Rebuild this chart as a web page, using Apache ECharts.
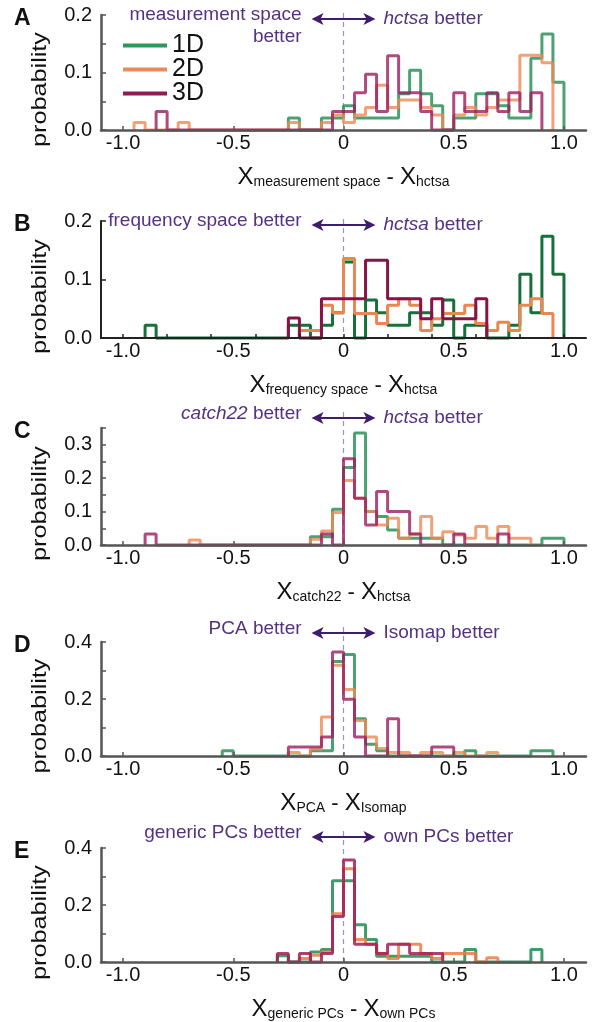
<!DOCTYPE html>
<html><head><meta charset="utf-8">
<script src="https://cdn.jsdelivr.net/npm/echarts@6/dist/echarts.min.js"></script>
<style>html,body{margin:0;padding:0;background:#fff}#c{width:606px;height:1022px}</style>
</head><body><div id="c"></div>
<script>
// ---- data ----
const binStart = -1.0;   // left edge of first bin
const binWidth = 0.05;   // histogram bin width
const seriesNames = ['1D', '2D', '3D'];
const xTickLabels = [-1, -0.5, 0, 0.5, 1];

// Panel A: measurement space - hctsa
const greenA   = [0,0,0,0,0,0,0,0,0,0,0,0,0,0,0,.021,0,0,.021,.021,.042,.021,.021,.021,.021,.063,.104,.063,.042,0,.021,.021,.063,.063,.042,.021,.021,.125,.167,.083];
const orangeA  = [0,.013,0,0,0,.013,0,0,0,0,0,0,0,0,0,.013,0,0,.013,.026,.013,.026,.039,.078,.039,.052,.052,.039,.026,0,.026,.039,.026,.039,.052,.052,.13,.13,.117,0];
const magentaA = [0,0,0,.032,0,0,0,0,0,0,0,0,0,0,0,0,0,0,0,.032,.032,.065,.097,.032,.129,.065,.065,.032,0,0,.065,.032,.032,.065,.032,.065,.032,.065,0,0];
// Panel B: frequency space - hctsa
const greenB   = [0,0,.022,0,0,0,0,0,0,0,0,0,0,0,0,.022,.022,0,.022,.043,.13,0,.065,.043,.022,.022,.043,.043,.022,.065,0,.022,.022,0,0,.022,.109,.043,.174,.109];
const orangeB  = [0,0,0,0,0,0,0,0,0,0,0,0,0,0,0,0,.013,.013,.056,.043,.136,.042,.042,.025,.056,.067,.056,.013,.033,.042,.042,.056,.025,.013,.027,.013,.056,.067,.042,0];
const magentaB = [0,0,0,0,0,0,0,0,0,0,0,0,0,0,0,.034,0,0,.067,.067,.067,.067,.133,.133,.067,.067,.067,.033,.067,.033,.033,.033,.067,0,0,0,0,0,0,0];
// Panel C: catch22 - hctsa
const greenC   = [0,0,0,0,0,0,0,0,0,0,0,0,0,0,0,0,0,.025,.025,.107,.232,.335,.1,.085,.045,.02,.02,.02,.02,0,0,0,0,0,0,0,0,0,.02,.02];
const orangeC  = [0,0,0,0,0,0,.015,0,0,0,0,0,0,0,0,0,0,.017,.042,.097,.193,.14,.1,.06,.08,.02,.033,.085,.02,.04,.03,.02,.055,.02,.055,.02,.02,0,0,0];
const magentaC = [0,0,.033,0,0,0,0,0,0,0,0,0,0,0,0,0,0,0,.033,0,.258,.14,.06,.16,.1,.1,.033,0,0,0,.033,0,0,0,.033,0,0,0,0,0];
// Panel D: PCA - Isomap
const greenD   = [0,0,0,0,0,0,0,0,0,.018,0,0,0,0,0,0,0,.018,.018,.332,.356,.131,.041,.018,0,0,0,0,0,0,0,.018,0,0,0,0,0,.018,.018,0];
const orangeD  = [0,0,0,0,0,0,0,0,0,0,0,0,0,0,0,.012,0,.025,.137,.318,.233,.125,.067,.026,.012,.012,0,.012,.012,0,.012,0,0,.012,0,0,0,0,0,0];
const magentaD = [0,0,0,0,0,0,0,0,0,0,0,0,0,0,0,.032,.032,.032,.067,.365,.199,.067,0,0,.131,0,0,0,.032,.032,0,0,0,0,0,0,0,0,0,0];
// Panel E: generic PCs - own PCs
const greenE   = [0,0,0,0,0,0,0,0,0,0,0,0,0,0,.022,0,0,.035,.044,.285,.285,.131,.079,.02,.02,.02,.02,.02,0,0,0,.044,0,0,0,0,0,.044,0,0];
const orangeE  = [0,0,0,0,0,0,0,0,0,0,0,0,0,0,0,0,.012,.024,.035,.169,.327,.079,.062,.03,.012,.062,.062,.03,.012,.03,.03,.03,0,.015,0,0,0,0,0,0];
const magentaE = [0,0,0,0,0,0,0,0,0,0,0,0,0,0,.03,0,.03,0,.03,.16,.358,.062,.062,.03,.062,.062,.03,.03,.03,0,0,0,0,0,0,0,0,0,0,0];

// ---- layout / style ----
const panels = [
  {letter:'A', top:15, height:115, ymax:0.2, yLab:[0,0.1,0.2], yTick:[0,0.05,0.1,0.15,0.2], xTick:[-1,-0.5,0,0.5,1],
   vals:[greenA,orangeA,magentaA], sub1:'measurement space', sub2:'hctsa', alpha:0.8,
   cols:['#1f8a50','#ee8a56','#9b1d5e'], axis:'#555', axisW:2.5},
  {letter:'B', top:221, height:117, ymax:0.2, yLab:[0,0.1,0.2], yTick:[0,0.1,0.2], xTick:[-1,-0.8,-0.6,-0.4,-0.2,0,0.2,0.4,0.6,0.8,1],
   vals:[greenB,orangeB,magentaB], sub1:'frequency space', sub2:'hctsa', alpha:1,
   cols:['#17703a','#e8874f','#861448'], axis:'#222', axisW:2},
  {letter:'C', top:428, height:117, ymax:0.35, yLab:[0,0.1,0.2,0.3], yTick:[0,0.05,0.1,0.15,0.2,0.25,0.3,0.35], xTick:[-1,-0.5,0,0.5,1],
   vals:[greenC,orangeC,magentaC], sub1:'catch22', sub2:'hctsa', alpha:0.8,
   cols:['#1f8a50','#ee8a56','#9b1d5e'], axis:'#555', axisW:2.5},
  {letter:'D', top:642, height:114, ymax:0.4, yLab:[0,0.2,0.4], yTick:[0,0.1,0.2,0.3,0.4], xTick:[-1,-0.5,0,0.5,1],
   vals:[greenD,orangeD,magentaD], sub1:'PCA', sub2:'Isomap', alpha:0.8,
   cols:['#1f8a50','#ee8a56','#9b1d5e'], axis:'#555', axisW:2.5},
  {letter:'E', top:848, height:115, ymax:0.4, yLab:[0,0.2,0.4], yTick:[0,0.1,0.2,0.3,0.4], xTick:[-1,-0.5,0,0.5,1],
   vals:[greenE,orangeE,magentaE], sub1:'generic PCs', sub2:'own PCs', alpha:0.85,
   cols:['#1f8a50','#ea7d45','#a31c55'], axis:'#555', axisW:2.5}
];
const annotations = [
  {left:['measurement space','better'], right:'{i|hctsa} better', y:19},
  {left:['frequency space better'], right:'{i|hctsa} better', y:225},
  {left:['{i|catch22} better'], right:'{i|hctsa} better', y:418},
  {left:['PCA better'], right:'Isomap better', y:633},
  {left:['generic PCs better'], right:'own PCs better', y:837}
];
const legendCols = ['#2e9660','#e98b58','#8e1c52'];
const PURPLE = '#543282';
const FONT = 'Liberation Sans';

function stairs(vals){
  let first = vals.findIndex(v => v > 0);
  let last = vals.length - 1 - vals.slice().reverse().findIndex(v => v > 0);
  const edge = i => +(binStart + i * binWidth).toFixed(4);
  const pts = [[edge(first), 0]];
  for (let i = first; i <= last; i++) pts.push([edge(i), vals[i]]);
  pts.push([edge(last + 1), 0]);
  return pts;
}

const grid = [], xAxis = [], yAxis = [], series = [];
panels.forEach((p, pi) => {
  grid.push({left:101, right:20, top:p.top, height:p.height});
  xAxis.push({
    type:'value', gridIndex:pi, min:-1.1, max:1.1, z:5,
    axisLine:{show:true, onZero:false, lineStyle:{color:p.axis, width:p.axisW}},
    axisTick:{show:true, inside:true, length:4, customValues:p.xTick, lineStyle:{color:p.axis, width:1.5}},
    axisLabel:{customValues:xTickLabels, fontSize:20, fontFamily:FONT, color:'#111', margin:3,
      formatter: v => (Math.abs(v) < 1e-9 ? '0' : v.toFixed(1))},
    splitLine:{show:false},
    name:'{x|X}{s|' + p.sub1 + '}{m| - }{x|X}{s|' + p.sub2 + '}',
    nameLocation:'middle', nameGap:33,
    nameTextStyle:{color:'#111', fontFamily:FONT, rich:{
      x:{fontSize:24, fontFamily:FONT, color:'#111', verticalAlign:'bottom', lineHeight:26},
      s:{fontSize:14, fontFamily:FONT, color:'#111', verticalAlign:'bottom', lineHeight:20},
      m:{fontSize:22, fontFamily:FONT, color:'#111', verticalAlign:'bottom', lineHeight:26}
    }}
  });
  yAxis.push({
    type:'value', gridIndex:pi, min:0, max:p.ymax, z:5,
    axisLine:{show:true, onZero:false, lineStyle:{color:p.axis, width:p.axisW}},
    axisTick:{show:true, inside:true, length:5, customValues:p.yTick, lineStyle:{color:p.axis, width:1.5}},
    axisLabel:{customValues:p.yLab, fontSize:20, fontFamily:FONT, color:'#111', margin:9,
      formatter: v => v.toFixed(1)},
    splitLine:{show:false}
  });
  p.vals.forEach((v, si) => {
    series.push({
      name:seriesNames[si], type:'line', step:'end', xAxisIndex:pi, yAxisIndex:pi,
      data:stairs(v), symbol:'none', showSymbol:false, clip:false, z:2,
      itemStyle:{color:p.cols[si]},
      lineStyle:{color:p.cols[si], width:3, opacity:p.alpha},
      silent:true, animation:false
    });
  });
});

const chart = echarts.init(document.getElementById('c'), null, {renderer:'canvas'});
chart.setOption({
  animation:false,
  backgroundColor:'#fff',
  grid, xAxis, yAxis, series,
  legend:{
    orient:'vertical', left:118, top:28, itemWidth:44, itemHeight:4, itemGap:-1, icon:'rect',
    textStyle:{fontSize:25, fontFamily:FONT, color:'#111'},
    data:seriesNames.map((n, i) => ({name:n, itemStyle:{color:legendCols[i], opacity:1}})),
    selectedMode:false
  }
});

// annotations (text, arrows, dashed zero lines)
const g = [];
panels.forEach((p, pi) => {
  const a = annotations[pi];
  const x0 = chart.convertToPixel({gridIndex:pi}, [0, 0])[0];
  const xl = chart.convertToPixel({gridIndex:pi}, [-0.145, 0])[0];
  const xr = chart.convertToPixel({gridIndex:pi}, [0.145, 0])[0];
  const base = p.top + p.height;
  g.push({type:'text', left:14, top:p.top - 8, style:{text:p.letter, font:'bold 23px "Liberation Sans"', fill:'#111'}});
  g.push({type:'text', x:40, y:p.top + p.height/2 + 17, rotation:Math.PI/2, scaleX:1.2,
    style:{text:'probability', font:'21px "Liberation Sans"', fill:'#111', align:'center', verticalAlign:'middle'}});
  g.push({type:'line', shape:{x1:x0, y1:a.y - 6, x2:x0, y2:base}, z:1,
    style:{stroke:'#9c92b6', lineWidth:1.2, lineDash:[5,4]}});
  g.push({type:'line', shape:{x1:xl + 8, y1:a.y, x2:xr - 8, y2:a.y}, style:{stroke:'#3e1c6e', lineWidth:2}});
  g.push({type:'polygon', shape:{points:[[xl, a.y], [xl + 12, a.y - 6], [xl + 9, a.y], [xl + 12, a.y + 6]]}, style:{fill:'#3e1c6e'}});
  g.push({type:'polygon', shape:{points:[[xr, a.y], [xr - 12, a.y - 6], [xr - 9, a.y], [xr - 12, a.y + 6]]}, style:{fill:'#3e1c6e'}});
  a.left.forEach((t, li) => {
    g.push({type:'text', x:xl - 10, y:a.y - 4 + li * 22, style:{text:t, font:'19px "Liberation Sans"', fill:PURPLE,
      align:'right', verticalAlign:'middle', rich:{i:{fontStyle:'italic', fontSize:19, fontFamily:FONT, fill:PURPLE}}}});
  });
  g.push({type:'text', x:xr + 8, y:a.y, style:{text:a.right, font:'19px "Liberation Sans"', fill:PURPLE,
    align:'left', verticalAlign:'middle', rich:{i:{fontStyle:'italic', fontSize:19, fontFamily:FONT, fill:PURPLE}}}});
});
chart.setOption({graphic:g});
</script>
</body></html>
